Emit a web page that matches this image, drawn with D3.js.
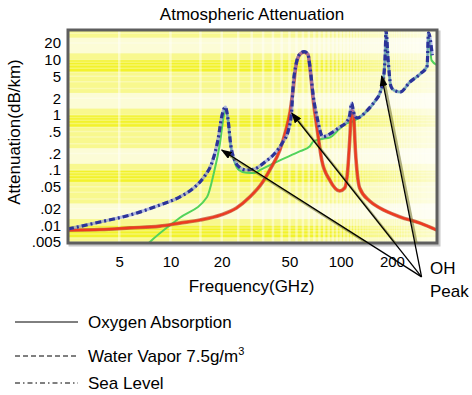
<!DOCTYPE html>
<html><head><meta charset="utf-8">
<script src="https://cdn.jsdelivr.net/npm/d3@7"></script>
<style>
body{margin:0;background:#fff;}
svg{display:block;font-family:"Liberation Sans",Arial,sans-serif;}
</style>
</head><body>
<svg id="c" width="472" height="395"></svg>
<script>
const chartTitle = "Atmospheric Attenuation";
const xLabel = "Frequency(GHz)";
const yLabel = "Attenuation(dB/km)";
const xTicks = [5, 10, 20, 50, 100, 200];
const yTicks = [20, 10, 5, 2, 1, 0.5, 0.2, 0.1, 0.05, 0.02, 0.01, 0.005];
const yTickLabels = ["20", "10", "5", "2", "1", ".5", ".2", ".1", ".05", ".02", ".01", ".005"];

// Oxygen absorption (red, solid)
const oxygenFreq = [2.5, 3.85, 5.78, 8.67, 11.3, 14.9, 19.7, 24.4, 29.2, 34.5, 38.3, 43.9, 47.7, 50.4, 52.5, 54.7, 57.8, 61, 64.2, 66.2, 69, 72.9, 77.4, 86.2, 98.7, 105.6, 110, 113, 116, 119, 122, 129.3, 148, 170, 223.6, 293, 368];
const oxygenVal  = [0.0082, 0.0084, 0.009, 0.0097, 0.011, 0.0125, 0.0154, 0.0206, 0.0326, 0.0585, 0.1005, 0.231, 0.532, 1.13, 2.82, 8.0, 12.6, 13.7, 12.4, 6.5, 1.86, 0.53, 0.152, 0.0662, 0.042, 0.0475, 0.1005, 0.35, 1.22, 0.995, 0.231, 0.0475, 0.0276, 0.0206, 0.0142, 0.011, 0.0082];

// Water vapor (green, thin)
const vaporFreq = [2.5, 5, 7.57, 11.3, 16.4, 18, 19.5, 20.5, 21, 21.8, 22.6, 23.8, 25.3, 27.9, 31.2, 33.5, 43.9, 57.8, 65.9, 69, 78.6, 86.2, 98.7, 108, 116, 125, 144, 159, 170, 178, 183, 184.5, 190, 197, 205, 224, 255, 293, 322, 328, 342, 368];
const vaporVal  = [0.00035, 0.0012, 0.005, 0.0136, 0.0326, 0.09, 0.3, 0.9, 1.3, 0.78, 0.27, 0.14, 0.1, 0.09, 0.089, 0.1, 0.15, 0.22, 0.27, 0.33, 0.37, 0.39, 0.56, 0.7, 0.75, 0.85, 1.2, 1.75, 2.45, 4.2, 15, 34, 9.7, 3.3, 2.8, 2.58, 3.92, 5.48, 7.6, 30, 9.7, 8.0];

// Sea level total (blue, dash-dot)
const seaFreq = [2.5, 3.85, 5.78, 8.67, 11.3, 13.9, 15.9, 17.5, 19.0, 20.1, 21, 21.8, 22.6, 23.8, 25.3, 27.9, 31.2, 35.9, 41.2, 45.4, 49.3, 51.4, 52.5, 54.7, 57.8, 61, 64.2, 66.2, 69, 72.9, 78.6, 86.2, 98.7, 108, 113, 116, 119, 124.8, 143.7, 159, 170, 178, 183, 184.5, 190, 197, 205, 224, 255, 293, 322, 328, 345];
const seaVal  = [0.0086, 0.0115, 0.0154, 0.0234, 0.0326, 0.0496, 0.0784, 0.1346, 0.35, 0.995, 1.39, 0.81, 0.285, 0.152, 0.114, 0.1005, 0.105, 0.14, 0.204, 0.31, 0.532, 1.08, 3.2, 8.3, 12.9, 14.0, 12.5, 6.9, 2.2, 0.86, 0.40, 0.45, 0.60, 0.74, 0.995, 1.64, 1.13, 0.88, 1.22, 1.78, 2.49, 4.28, 15, 34, 9.8, 3.33, 2.82, 2.6, 3.94, 5.5, 7.67, 30.6, 12];

// OH peak annotation (data coordinates)
const ohLabel = ["OH", "Peak"];
const ohTargetFreq = [20.0, 51.6, 174];
const ohTargetVal  = [0.231, 1.08, 5.04];
const ohSourceFreq = 298.6;
const ohSourceVal  = 0.00117;

const legendLabels = ["Oxygen Absorption", "Water Vapor 7.5g/m", "Sea Level"];
const legendSup = ["", "3", ""];
const legendDash = [null, "5,3", "5,3,1.5,3"];

// background band definitions (per decade multipliers)
const brightBand = [0.6, 1.0];
const whiteBand = [1.3, 2.5];
const decades = [0.0001, 0.001, 0.01, 0.1, 1, 10];

const svg = d3.select("#c");
const P = {l: 68, r: 437, t: 30, b: 243};
const x = d3.scaleLog().domain([2.5, 368]).range([P.l, P.r]);
const y = d3.scaleLog().domain([0.0048, 34.4]).range([P.b, P.t]);

svg.append("defs").append("clipPath").attr("id", "clip")
  .append("rect").attr("x", P.l).attr("y", P.t).attr("width", P.r - P.l).attr("height", P.b - P.t);
svg.select("defs").append("marker").attr("id", "ah")
  .attr("markerUnits", "userSpaceOnUse").attr("markerWidth", 11).attr("markerHeight", 8)
  .attr("refX", 10).attr("refY", 4).attr("orient", "auto")
  .append("path").attr("d", "M0,0L11,4L0,8Z").attr("fill", "#000");

// shadow of frame
svg.append("rect").attr("x", P.l + 2).attr("y", P.t + 2).attr("width", P.r - P.l).attr("height", P.b - P.t)
  .attr("fill", "none").attr("stroke", "#c8c8c8").attr("stroke-width", 3);

const bg = svg.append("g").attr("clip-path", "url(#clip)");
bg.append("rect").attr("x", P.l).attr("y", P.t).attr("width", P.r - P.l).attr("height", P.b - P.t).attr("fill", "#f8f88e");
decades.forEach(d => {
  bg.append("rect").attr("x", P.l).attr("width", P.r - P.l)
    .attr("y", y(brightBand[1] * d)).attr("height", y(brightBand[0] * d) - y(brightBand[1] * d))
    .attr("fill", "#f2f22c");
  bg.append("rect").attr("x", P.l).attr("width", P.r - P.l)
    .attr("y", y(whiteBand[1] * d)).attr("height", y(whiteBand[0] * d) - y(whiteBand[1] * d))
    .attr("fill", "#fcfcd6");
});
// minor grid lines
const xMinor = x.ticks(60);
bg.selectAll(".vx").data(xMinor).join("line")
  .attr("x1", d => x(d)).attr("x2", d => x(d)).attr("y1", P.t).attr("y2", P.b)
  .attr("stroke", "#ffffff").attr("stroke-opacity", 0.45).attr("stroke-width", 2.5);
const yMinor = y.ticks(60);
bg.selectAll(".hy").data(yMinor).join("line")
  .attr("y1", d => y(d)).attr("y2", d => y(d)).attr("x1", P.l).attr("x2", P.r)
  .attr("stroke", "#ffffff").attr("stroke-opacity", 0.3).attr("stroke-width", 1.5);

const line = d3.line().x(d => x(d[0])).y(d => y(d[1])).curve(d3.curveMonotoneX);
const plot = svg.append("g").attr("clip-path", "url(#clip)");

plot.append("path").datum(d3.zip(vaporFreq, vaporVal)).attr("d", line)
  .attr("fill", "none").attr("stroke", "#52d35a").attr("stroke-width", 2);
plot.append("path").datum(d3.zip(oxygenFreq, oxygenVal)).attr("d", line)
  .attr("fill", "none").attr("stroke", "#b8442a").attr("stroke-width", 3.6).attr("stroke-opacity", 0.7);
plot.append("path").datum(d3.zip(oxygenFreq, oxygenVal)).attr("d", line)
  .attr("fill", "none").attr("stroke", "#ee3a20").attr("stroke-width", 2.2);
plot.append("path").datum(d3.zip(seaFreq, seaVal)).attr("d", line)
  .attr("fill", "none").attr("stroke", "#7d8be6").attr("stroke-width", 3.2).attr("stroke-opacity", 0.6);
plot.append("path").datum(d3.zip(seaFreq, seaVal)).attr("d", line)
  .attr("fill", "none").attr("stroke", "#2c3398").attr("stroke-width", 3.2)
  .attr("stroke-dasharray", "6,3,2,3");

// frame
svg.append("rect").attr("x", P.l).attr("y", P.t).attr("width", P.r - P.l).attr("height", P.b - P.t)
  .attr("fill", "none").attr("stroke", "#5e5e5e").attr("stroke-width", 3);

// axes
const yAxis = d3.axisLeft(y).tickValues(yTicks).tickFormat((d, i) => yTickLabels[i]).tickSize(0).tickPadding(7);
const gy = svg.append("g").attr("transform", `translate(${P.l},0)`).call(yAxis);
gy.select(".domain").remove();
gy.selectAll("text").attr("font-size", 15).attr("fill", "#000").attr("font-family", "Liberation Sans, Arial, sans-serif");

const xAxis = d3.axisBottom(x).tickValues(xTicks).tickFormat(d3.format("d")).tickSize(0).tickPadding(13);
const gx = svg.append("g").attr("transform", `translate(0,${P.b})`).call(xAxis);
gx.select(".domain").remove();
gx.selectAll("text").attr("font-size", 15).attr("fill", "#000").attr("font-family", "Liberation Sans, Arial, sans-serif");

// titles
svg.append("text").attr("x", 252).attr("y", 20).attr("text-anchor", "middle").attr("font-size", 17).text(chartTitle);
svg.append("text").attr("x", 251.5).attr("y", 292).attr("text-anchor", "middle").attr("font-size", 17).text(xLabel);
svg.append("text").attr("transform", "translate(20,132) rotate(-90)").attr("text-anchor", "middle").attr("font-size", 17).text(yLabel);

// OH annotation arrows
const shadowG = svg.append("g").attr("clip-path", "url(#clip)");
ohTargetFreq.forEach((f, i) => {
  const sx = x(ohSourceFreq), sy = y(ohSourceVal), tx = x(f), ty = y(ohTargetVal[i]);
  shadowG.append("line").attr("x1", sx + 2).attr("y1", sy + 2).attr("x2", tx + 2).attr("y2", ty + 2)
    .attr("stroke", "#6f6f2a").attr("stroke-opacity", 0.55).attr("stroke-width", 2.5);
});
ohTargetFreq.forEach((f, i) => {
  svg.append("line").attr("x1", x(ohSourceFreq)).attr("y1", y(ohSourceVal))
    .attr("x2", x(f)).attr("y2", y(ohTargetVal[i]))
    .attr("stroke", "#000").attr("stroke-width", 1.3).attr("marker-end", "url(#ah)");
});
svg.append("text").attr("x", 430).attr("y", 274).attr("font-size", 17).text(ohLabel[0]);
svg.append("text").attr("x", 430).attr("y", 297).attr("font-size", 17).text(ohLabel[1]);

// legend
const legY = [322, 356, 383];
legendLabels.forEach((lab, i) => {
  const ln = svg.append("line").attr("x1", 15).attr("x2", 78).attr("y1", legY[i]).attr("y2", legY[i])
    .attr("stroke", "#000").attr("stroke-width", 1);
  if (legendDash[i]) ln.attr("stroke-dasharray", legendDash[i]);
  const t = svg.append("text").attr("x", 88).attr("y", legY[i] + 6).attr("font-size", 17).text(lab);
  if (legendSup[i]) t.append("tspan").attr("font-size", 11).attr("dy", -7).text(legendSup[i]);
});
</script>
</body></html>
